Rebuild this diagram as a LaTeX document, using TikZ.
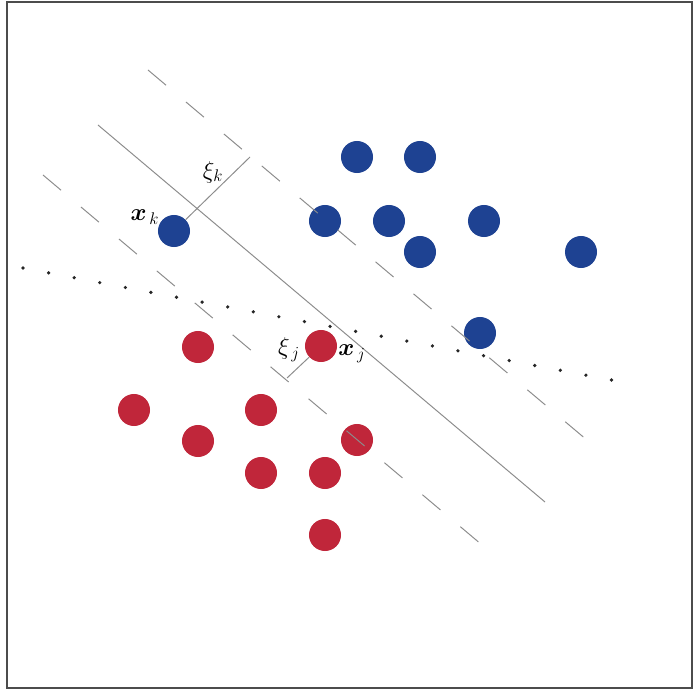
\documentclass[tikz,border=0pt]{standalone}
\usepackage{amsmath}
\usepackage{bm}
\usepackage{tikz}
\usetikzlibrary{positioning, calc}
\definecolor{svblue}{RGB}{30,66,146}
\definecolor{svred}{RGB}{192,38,58}
\definecolor{svgray}{RGB}{140,140,140}

\begin{document}
\begin{tikzpicture}[x=0.025cm, y=-0.025cm,
  bpt/.style={circle, fill=svblue, minimum size=0.8cm, inner sep=0pt},
  rpt/.style={circle, fill=svred, minimum size=0.8cm, inner sep=0pt},
  hyper/.style={draw=svgray, line width=0.7pt},
  margin/.style={draw=svgray, line width=0.7pt, dash pattern=on 0.59cm off 0.65cm},
  other/.style={draw=black!85, line width=2.6pt, line cap=round, dash pattern=on 0pt off 0.651cm},
  slack/.style={draw=svgray, line width=0.7pt},
  lbl/.style={font=\LARGE, inner sep=1pt}
]
\useasboundingbox (0,0) rectangle (693,690);
\draw[black!70, line width=1pt] (7,2) rectangle (692,688);

\node[bpt] (b1) at (357,157) {};
\node[bpt] (b2) at (420,157) {};
\node[bpt] (xk) at (174,231) {};
\node[bpt] (b3) at (325,221) {};
\node[bpt] (b4) at (389,221) {};
\node[bpt] (b5) at (484,221) {};
\node[bpt] (b6) at (420,252) {};
\node[bpt] (b7) at (581,252) {};
\node[bpt] (b8) at (480,333) {};

\node[rpt] (r1) at (198,347) {};
\node[rpt] (xj) at (321,346) {};
\node[rpt] (r2) at (134,410) {};
\node[rpt] (r3) at (261,410) {};
\node[rpt] (r4) at (198,441) {};
\node[rpt] (r5) at (357,440) {};
\node[rpt] (r6) at (261,473) {};
\node[rpt] (r7) at (325,473) {};
\node[rpt] (r8) at (325,535) {};

\coordinate (h1) at (98,125);
\coordinate (h2) at (545,502);
\coordinate (u1) at (148,70);
\coordinate (u2) at (594,446);
\coordinate (l1) at (43,175);
\coordinate (l2) at (488,550);
\coordinate (d1) at (23,268);
\coordinate (d2) at (627,383);
\coordinate (mk) at (250,157);
\coordinate (mj) at (287,378);

\draw[other] (d1) -- (d2);
\draw[hyper] (h1) -- (h2);
\draw[margin] (u1) -- (u2);
\draw[margin] (l1) -- (l2);
\draw[slack] (xk) -- (mk);
\draw[slack] (xj) -- (mj);

\node[lbl] (xik) at (213,172) {$\xi_k$};
\node[lbl] (lxk) at (145,217) {$\bm{x}_{\,k}$};
\node[lbl] (xij) at (289,350) {$\xi_{\,j}$};
\node[lbl] (lxj) at (352,354) {$\bm{x}_{\,j}$};
\end{tikzpicture}
\end{document}
